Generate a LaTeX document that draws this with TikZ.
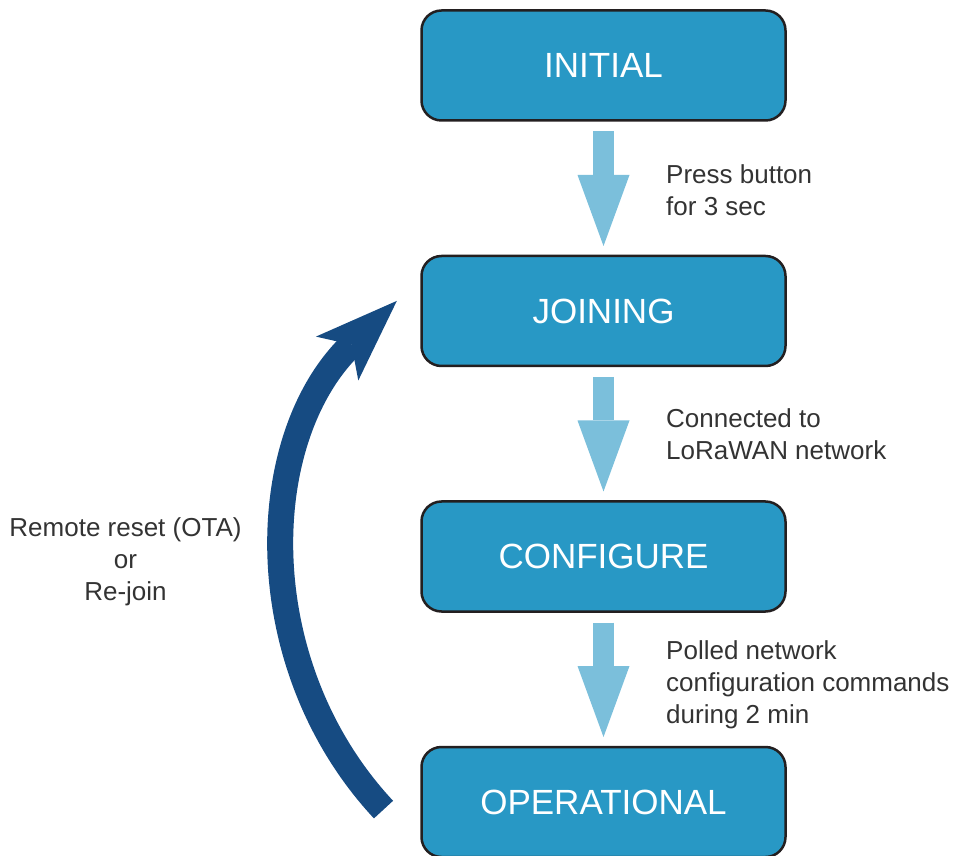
\documentclass[tikz,border=0pt]{standalone}
\usepackage{fontspec}
\setmainfont{Liberation Sans}
\usetikzlibrary{arrows.meta, positioning}
\definecolor{boxfill}{RGB}{40,152,197}
\definecolor{boxline}{RGB}{35,31,32}
\definecolor{stepflow}{RGB}{123,191,219}
\definecolor{rejoinflow}{RGB}{22,75,130}
\definecolor{labeltext}{RGB}{51,51,51}
\tikzset{
  state/.style={rectangle, rounded corners=20bp, draw=boxline, line width=2.5bp,
                fill=boxfill, text=white, minimum width=364bp, minimum height=110bp,
                outer sep=0pt, font=\fontsize{35bp}{42bp}\selectfont},
  flow/.style={-{Triangle[length=71bp, width=52bp, line width=0pt]}, line width=21bp, color=stepflow},
  rejoin/.style={-{Stealth[length=83bp, width=61bp, inset=20bp, line width=0pt]}, line width=26bp, color=rejoinflow},
  note/.style={inner sep=0pt, align=left, text=labeltext, font=\fontsize{26bp}{32bp}\selectfont},
}

\begin{document}
\begin{tikzpicture}[x=1bp, y=1bp, node distance=135.5bp]
  \useasboundingbox (0,0) rectangle (960,856);
  \node[state] (init) at (603.5,790.5) {INITIAL};
  \node[state, below=of init] (join) {JOINING};
  \node[state, below=of join] (conf) {CONFIGURE};
  \node[state, below=of conf] (oper) {OPERATIONAL};
  \draw[flow] ([yshift=-11bp]init.south) -- ([yshift=10bp]join.north);
  \draw[flow] ([yshift=-11bp]join.south) -- ([yshift=10bp]conf.north);
  \draw[flow] ([yshift=-11bp]conf.south) -- ([yshift=10bp]oper.north);
  \node[note, anchor=west] (press) at (666,665.5) {Press button\\for 3 sec};
  \node[note, anchor=west] (lora) at (666,421.5) {Connected to\\LoRaWAN network};
  \node[note, anchor=west] (poll) at (666,171.2) {Polled network\\configuration commands\\during 2 min};
  \coordinate (back) at (383.5,46.4);
  \draw[rejoin] (back) arc[start angle=223, end angle=134, radius=363bp];
  \node[note, align=center] (reset) at (125.5,294.3) {Remote reset (OTA)\\or\\Re-join};
\end{tikzpicture}
\end{document}
